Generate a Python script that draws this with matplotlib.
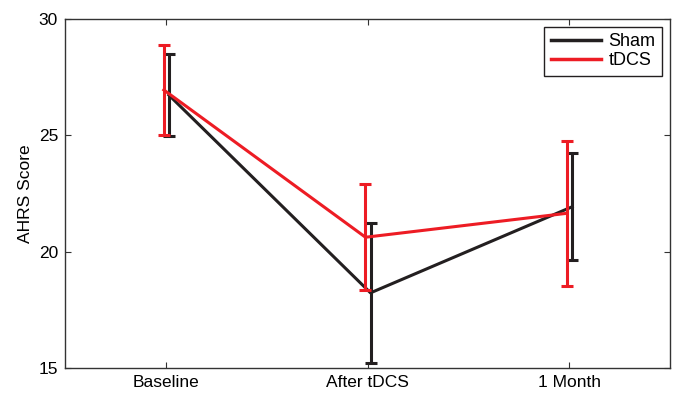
import numpy as np
import matplotlib.pyplot as plt
from matplotlib.lines import Line2D

plt.rcParams['font.family'] = ['Liberation Sans', 'DejaVu Sans']

categories = ['Baseline', 'After tDCS', '1 Month']
sham_mean = [26.73, 18.23, 21.93]
sham_err = [1.77, 3.02, 2.30]
tdcs_mean = [26.95, 20.62, 21.65]
tdcs_err = [1.92, 2.27, 3.12]

x = np.arange(1, len(categories) + 1)
black = '#231f20'
red = '#ed1c24'

fig = plt.figure(figsize=(6.75, 3.93), dpi=100)
ax = fig.add_axes([0.0963, 0.0636, 0.8963, 0.8881])

ax.errorbar(x + 0.015, sham_mean, yerr=sham_err, color=black, linewidth=2.2,
            elinewidth=2.2, capsize=4, capthick=2.2, zorder=2)
ax.errorbar(x - 0.01, tdcs_mean, yerr=tdcs_err, color=red, linewidth=2.2,
            elinewidth=2.2, capsize=4, capthick=2.2, zorder=3)

ax.set_xlim(0.5, 3.5)
ax.set_ylim(15, 30)
ax.set_xticks(x)
ax.set_xticklabels(categories)
ax.set_yticks([15, 20, 25, 30])
ax.set_ylabel('AHRS Score', fontsize=12.5, labelpad=4)
ax.tick_params(direction='in', top=True, right=True, length=4, width=0.8,
               labelsize=12.5, color='#333333', pad=5)
for s in ax.spines.values():
    s.set_linewidth(1.0)
    s.set_color('#333333')

handles = [Line2D([], [], color=black, linewidth=2.5),
           Line2D([], [], color=red, linewidth=2.5)]
leg = ax.legend(handles, ['Sham', 'tDCS'], loc='upper right', fontsize=13,
                fancybox=False, framealpha=1, edgecolor=black,
                handlelength=2.8, borderaxespad=0.45, handletextpad=0.4,
                borderpad=0.35, labelspacing=0.1)
leg.get_frame().set_linewidth(1.0)

fig.savefig('out.png', dpi=100)
